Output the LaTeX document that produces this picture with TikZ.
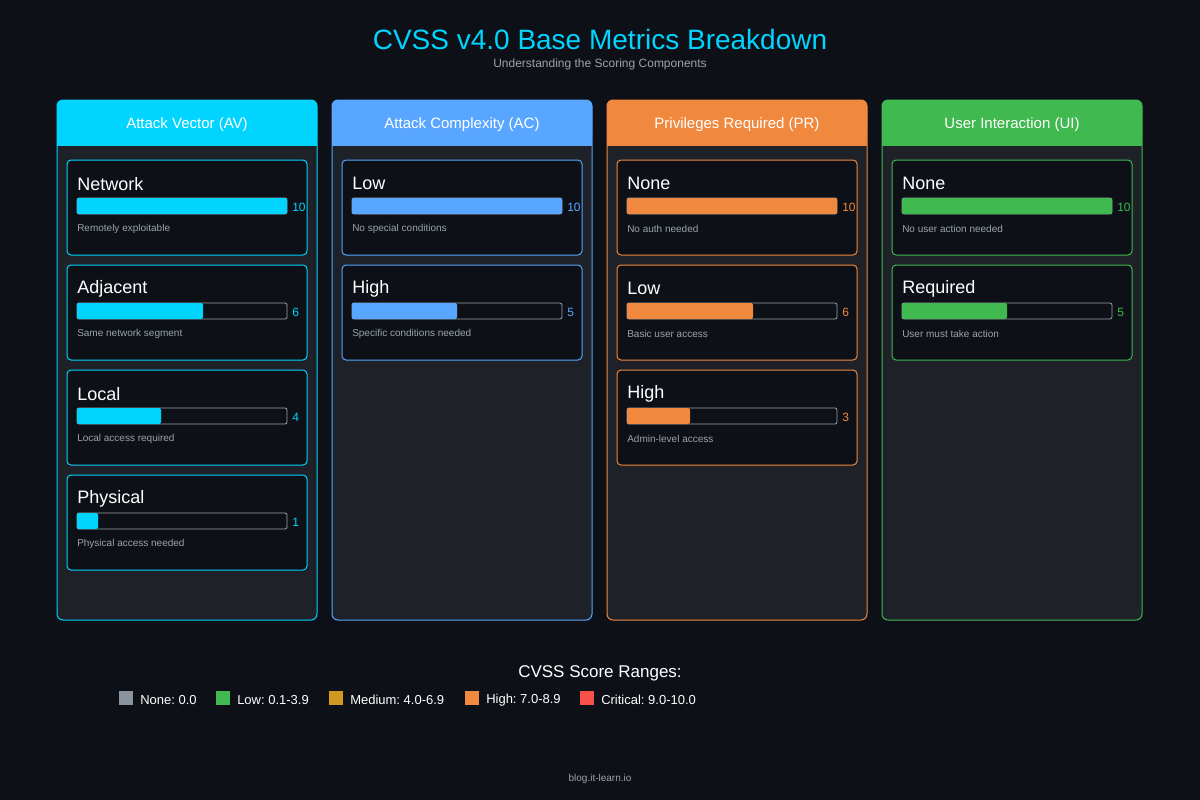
\documentclass[tikz,border=0pt]{standalone}
\usepackage{fontspec}
\setmainfont{Liberation Sans}
\frenchspacing
\definecolor{bg}{HTML}{0D1117}
\definecolor{panel}{HTML}{1E2128}
\definecolor{cav}{HTML}{00D4FF}
\definecolor{cac}{HTML}{58A6FF}
\definecolor{cpr}{HTML}{F0883E}
\definecolor{cui}{HTML}{3FB950}
\definecolor{sub}{HTML}{9BA3AD}
\definecolor{cnone}{HTML}{8B949E}
\definecolor{cmed}{HTML}{D29922}
\definecolor{ccrit}{HTML}{F85149}
\newcommand{\fs}[1]{\fontsize{#1}{#1}\selectfont}
\tikzset{
 txt/.style={inner sep=0pt,text=white,yshift=-1.2pt},
 col/.style={draw=#1,fill=panel,rounded corners=4.5pt,line width=0.75pt},
 card/.style={draw=#1,fill=bg,rounded corners=3pt,line width=0.75pt},
 track/.style={draw=sub,fill=bg,rounded corners=1.5pt,line width=0.6pt},
}
\newcommand{\mycard}[8]{%
 \draw[card=#2] (#3+10,#4) rectangle (#3+250,#4+95);
 \node[txt,anchor=west,font=\fs{13.5}] (#8t) at (#3+20,#4+22) {#5};
 \draw[track] (#3+20,#4+38) rectangle (#3+230,#4+54);
 \fill[#2,rounded corners=1.5pt] (#3+20,#4+38) rectangle ({#3+20+21*#6},#4+54);
 \node[txt,anchor=west,text=#2,font=\fs{9}] (#8v) at (#3+235,#4+46) {#6};
 \node[txt,anchor=west,text=sub,font=\fs{7.5}] (#8d) at (#3+20,#4+67) {#7};
}
\newcommand{\mycol}[4]{%
 \draw[col=#2] (#3,100) rectangle (#3+260,620);
 \fill[#2,rounded corners=4.5pt] (#3,100) rectangle (#3+260,140);
 \fill[#2] (#3,120) rectangle (#3+260,146);
 \node[txt,font=\fs{11.25}] (#1h) at (#3+130,123) {#4};
}
\begin{document}
\begin{tikzpicture}[x=0.75pt,y=-0.75pt]
\fill[bg] (0,0) rectangle (1200,800);
\useasboundingbox (0,0) rectangle (1200,800);
\node[txt,text=cav,font=\fs{21}] (title) at (600,38) {CVSS v4.0 Base Metrics Breakdown};
\node[txt,text=sub,font=\fs{9}] (subtitle) at (600,63) {Understanding the Scoring Components};
\mycol{av}{cav}{57}{Attack Vector (AV)}
\mycol{ac}{cac}{332}{Attack Complexity (AC)}
\mycol{pr}{cpr}{607}{Privileges Required (PR)}
\mycol{ui}{cui}{882}{User Interaction (UI)}
\mycard{av}{cav}{57}{160}{Network}{10}{Remotely exploitable}{av1}
\mycard{av}{cav}{57}{265}{Adjacent}{6}{Same network segment}{av2}
\mycard{av}{cav}{57}{370}{Local}{4}{Local access required}{av3}
\mycard{av}{cav}{57}{475}{Physical}{1}{Physical access needed}{av4}
\mycard{ac}{cac}{332}{160}{Low}{10}{No special conditions}{ac1}
\mycard{ac}{cac}{332}{265}{High}{5}{Specific conditions needed}{ac2}
\mycard{pr}{cpr}{607}{160}{None}{10}{No auth needed}{pr1}
\mycard{pr}{cpr}{607}{265}{Low}{6}{Basic user access}{pr2}
\mycard{pr}{cpr}{607}{370}{High}{3}{Admin-level access}{pr3}
\mycard{ui}{cui}{882}{160}{None}{10}{No user action needed}{ui1}
\mycard{ui}{cui}{882}{265}{Required}{5}{User must take action}{ui2}
\node[txt,font=\fs{12.75}] (legt) at (600,672) {CVSS Score Ranges:};
\foreach \x/\c/\t/\n in {119/cnone/{None: 0.0}/l1,216/cui/{Low: 0.1-3.9}/l2,329/cmed/{Medium: 4.0-6.9}/l3,465/cpr/{High: 7.0-8.9}/l4,580/ccrit/{Critical: 9.0-10.0}/l5}{
 \fill[\c] (\x,691) rectangle (\x+14,705);
 \node[txt,anchor=west,font=\fs{9.75}] (\n) at (\x+21,698.5) {\t};
}
\node[txt,text=sub,font=\fs{7.5}] (footer) at (600,777) {blog.it-learn.io};
\end{tikzpicture}
\end{document}
